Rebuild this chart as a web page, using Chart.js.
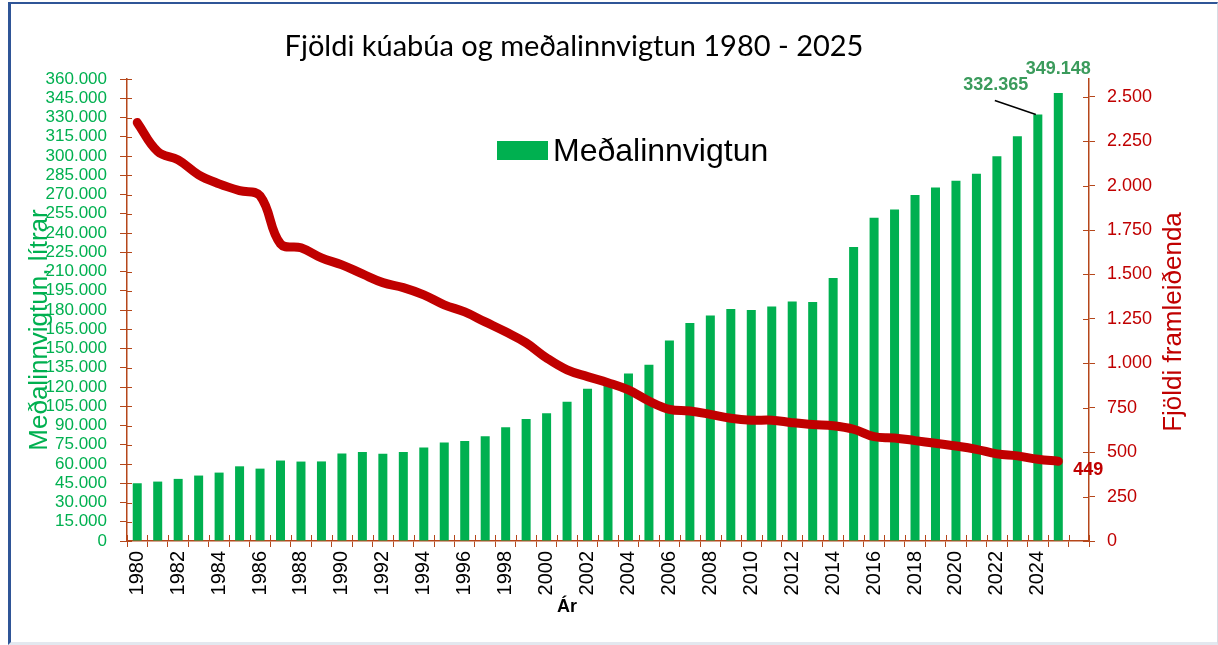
<!DOCTYPE html>
<html>
<head>
<meta charset="utf-8">
<script src="https://cdn.jsdelivr.net/npm/chart.js@4.4.1/dist/chart.umd.min.js"></script>
<style>
  html, body { margin: 0; padding: 0; background: #fff; }
  #frame {
    position: absolute; left: 8px; top: 2px; width: 1206px; height: 638px;
    border-left: 3px solid #2f5597; border-top: 2px solid #2f5597;
    border-right: 1px solid #d6dce5; border-bottom: 3px solid #e3e8ef;
  }
  canvas { position: absolute; left: 0; top: 0; }
</style>
</head>
<body>
<div id="frame"></div>
<canvas id="chart" width="1218" height="645"></canvas>
<script>
// Years on the x axis
const years = ["1980", "1981", "1982", "1983", "1984", "1985", "1986", "1987", "1988", "1989",
  "1990", "1991", "1992", "1993", "1994", "1995", "1996", "1997", "1998", "1999",
  "2000", "2001", "2002", "2003", "2004", "2005", "2006", "2007", "2008", "2009",
  "2010", "2011", "2012", "2013", "2014", "2015", "2016", "2017", "2018", "2019",
  "2020", "2021", "2022", "2023", "2024", "2025"];

// Meðalinnvigtun, lítrar (bars, left axis)
const avgLitres = [45000, 46300, 48400, 51000, 53300, 58200, 56400, 62700, 61900, 62000,
  68100, 69400, 67900, 69400, 72800, 76700, 78000, 81600, 88600, 95100,
  99500, 108600, 118700, 122300, 130600, 137400, 156300, 169800, 175800, 180700,
  180000, 182800, 186700, 186200, 204900, 229000, 251800, 258300, 269700, 275500,
  280800, 286100, 299900, 315300, 332365, 349148];

// Fjöldi framleiðenda (line, right axis)
const producers = [2355, 2192, 2145, 2061, 2010, 1972, 1943, 1672, 1650, 1593,
  1554, 1503, 1454, 1426, 1385, 1329, 1289, 1233, 1177, 1115,
  1030, 963, 925, 891, 850, 788, 741, 732, 713, 691,
  680, 680, 666, 655, 649, 629, 587, 580, 565, 550,
  535, 516, 490, 479, 460, 449];

// axis ranges
const leftMax = 360000, leftStep = 15000;
const rightMax = 2600, rightTop = 2500, rightStep = 250;

const green = "#00b050";
const red = "#c00000";
const axisColor = "#b5471b";
const fmt = v => String(v).replace(/\B(?=(\d{3})+(?!\d))/g, ".");

// one empty slot after 2025, like the original axis
const labels = years.concat([""]);

const overlay = {
  id: "overlay",
  afterDraw(chart) {
    const { ctx, chartArea, scales } = chart;
    const x = scales.x, yl = scales.y, yr = scales.y1;
    ctx.save();

    // inner halves of the tick marks
    ctx.strokeStyle = axisColor;
    ctx.lineWidth = 1;
    yl.ticks.forEach(t => {
      const py = Math.round(yl.getPixelForValue(t.value)) + 0.5;
      ctx.beginPath(); ctx.moveTo(chartArea.left, py); ctx.lineTo(chartArea.left + 5, py); ctx.stroke();
    });
    yr.ticks.forEach(t => {
      const py = Math.round(yr.getPixelForValue(t.value)) + 0.5;
      ctx.beginPath(); ctx.moveTo(chartArea.right - 6, py); ctx.lineTo(chartArea.right, py); ctx.stroke();
    });
    const w = (chartArea.right - chartArea.left) / labels.length;
    for (let i = 0; i <= labels.length; i++) {
      const px = Math.round(chartArea.left + i * w) + 0.5;
      ctx.beginPath(); ctx.moveTo(px, chartArea.bottom); ctx.lineTo(px, chartArea.bottom - 6); ctx.stroke();
    }

    // title
    ctx.fillStyle = "#000";
    ctx.font = "29px Lato";
    ctx.textAlign = "center";
    ctx.textBaseline = "middle";
    ctx.fillText("Fjöldi kúabúa og meðalinnvigtun 1980 - 2025", 574, 47);

    // legend
    ctx.fillStyle = green;
    ctx.fillRect(497, 141, 51, 19);
    ctx.fillStyle = "#000";
    ctx.font = "32px 'Liberation Sans'";
    ctx.textAlign = "left";
    ctx.fillText("Meðalinnvigtun", 553, 152);

    // axis titles
    ctx.save();
    ctx.translate(40, 330);
    ctx.rotate(-Math.PI / 2);
    ctx.textAlign = "center";
    ctx.fillStyle = green;
    ctx.font = "26px 'Liberation Sans'";
    ctx.fillText("Meðalinnvigtun, lítrar", 0, 0);
    ctx.restore();

    ctx.save();
    ctx.translate(1174, 322);
    ctx.rotate(-Math.PI / 2);
    ctx.textAlign = "center";
    ctx.fillStyle = red;
    ctx.font = "26px 'Liberation Sans'";
    ctx.fillText("Fjöldi framleiðenda", 0, 0);
    ctx.restore();

    ctx.fillStyle = "#000";
    ctx.font = "bold 18px 'Liberation Sans'";
    ctx.textAlign = "center";
    ctx.fillText("Ár", x.getPixelForValue(21), 607);

    // data labels
    const last = years.length - 1;
    ctx.font = "bold 18px 'Liberation Sans'";
    ctx.fillStyle = "#3b9b5c";
    ctx.fillText(fmt(avgLitres[last]), x.getPixelForValue(last), yl.getPixelForValue(avgLitres[last]) - 24);

    const bx = x.getPixelForValue(last - 1), by = yl.getPixelForValue(avgLitres[last - 1]);
    ctx.fillText(fmt(avgLitres[last - 1]), bx - 42, by - 29);
    ctx.strokeStyle = "#000";
    ctx.lineWidth = 1.5;
    ctx.beginPath(); ctx.moveTo(bx - 43, by - 14); ctx.lineTo(bx - 2, by); ctx.stroke();

    ctx.fillStyle = red;
    ctx.textAlign = "left";
    ctx.fillText(fmt(producers[last]), x.getPixelForValue(last) + 15, yr.getPixelForValue(producers[last]) + 9);

    ctx.restore();
  }
};

new Chart(document.getElementById("chart").getContext("2d"), {
  type: "bar",
  data: {
    labels: labels,
    datasets: [
      {
        type: "line",
        label: "Fjöldi framleiðenda",
        data: producers,
        yAxisID: "y1",
        borderColor: red,
        backgroundColor: red,
        borderWidth: 9,
        pointRadius: 0,
        tension: 0.4,
        borderCapStyle: "round",
        borderJoinStyle: "round",
        order: 0
      },
      {
        label: "Meðalinnvigtun",
        data: avgLitres,
        yAxisID: "y",
        backgroundColor: green,
        barPercentage: 0.44,
        categoryPercentage: 1,
        order: 1
      }
    ]
  },
  options: {
    responsive: false,
    animation: false,
    layout: { padding: { top: 79, left: 0, right: 0, bottom: 0 } },
    plugins: {
      legend: { display: false },
      tooltip: { enabled: false }
    },
    scales: {
      x: {
        offset: true,
        grid: { offset: true, drawOnChartArea: false, color: axisColor, tickLength: 6 },
        border: { color: axisColor, width: 1.5 },
        ticks: {
          autoSkip: false,
          minRotation: 90,
          maxRotation: 90,
          padding: 4,
          color: "#000",
          font: { family: "Liberation Sans", size: 20 },
          callback: (v, i) => (i % 2 === 0 ? labels[i] : "")
        },
        afterFit: s => { s.height = 104; }
      },
      y: {
        position: "left",
        min: 0,
        max: leftMax,
        grid: { drawOnChartArea: false, color: axisColor, tickLength: 7 },
        border: { color: axisColor, width: 1.5 },
        ticks: {
          autoSkip: false,
          stepSize: leftStep,
          padding: 13,
          color: green,
          font: { family: "Liberation Sans", size: 17 },
          callback: v => fmt(v)
        },
        afterFit: s => { s.width = 127; }
      },
      y1: {
        position: "right",
        min: 0,
        max: rightMax,
        grid: { drawOnChartArea: false, color: axisColor, tickLength: 6 },
        border: { color: axisColor, width: 1.5 },
        ticks: {
          autoSkip: false,
          stepSize: rightStep,
          padding: 12,
          color: red,
          font: { family: "Liberation Sans", size: 18 },
          callback: v => fmt(v)
        },
        afterBuildTicks: s => {
          const t = [];
          for (let v = 0; v <= rightTop; v += rightStep) t.push({ value: v });
          s.ticks = t;
        },
        afterFit: s => { s.width = 129; }
      }
    }
  },
  plugins: [overlay]
});
</script>
</body>
</html>
